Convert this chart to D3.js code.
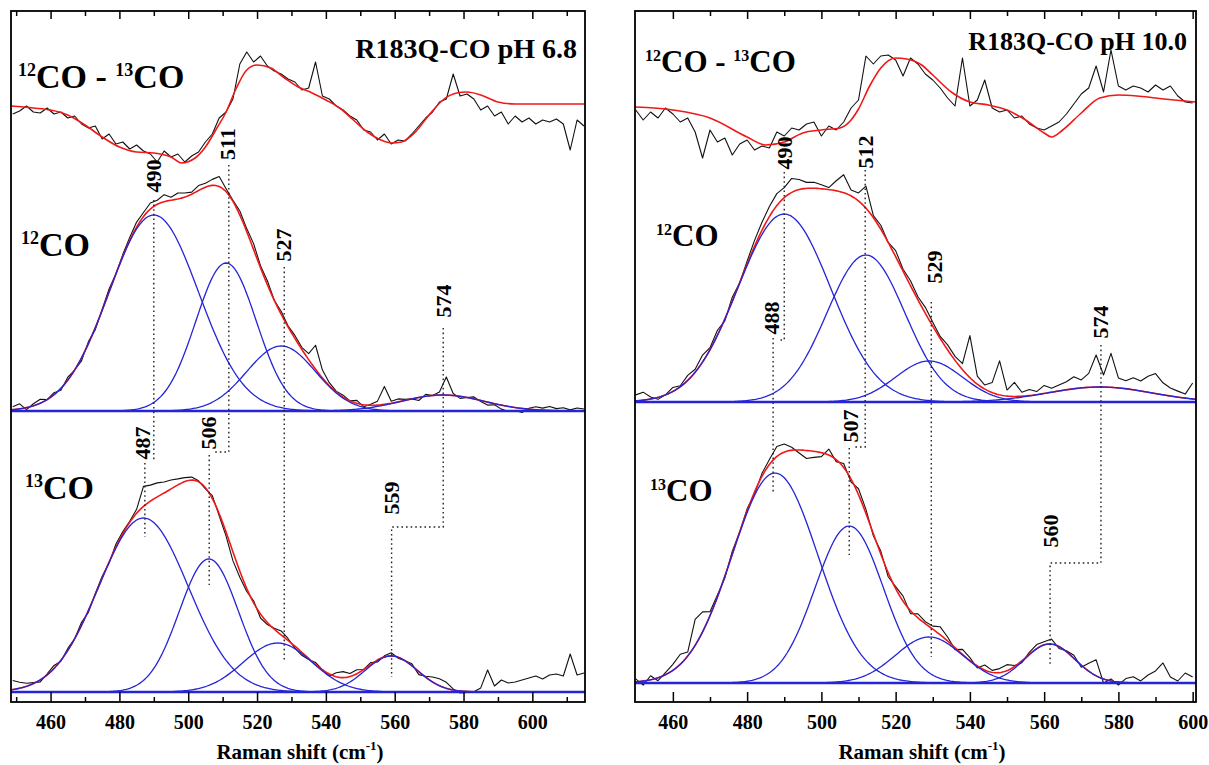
<!DOCTYPE html>
<html><head><meta charset="utf-8">
<script src="https://cdn.jsdelivr.net/npm/d3@7"></script>
<style>
body{margin:0;background:#fff}
svg{display:block}
text{font-family:"Liberation Serif","Times New Roman",serif;font-weight:bold;fill:#000}
</style>
</head><body>
<svg id="c" width="1209" height="765"></svg>
<script>
// ---------------- DATA ----------------
const tickValues = [460, 480, 500, 520, 540, 560, 580, 600];
const minorTickValues = [450, 470, 490, 510, 530, 550, 570, 590, 610];

// ===== Left panel : R183Q-CO pH 6.8 =====
const L_xRange = [448.5, 615.3];
const L_gridStart = 449;                 // measured spectra sampled every 2 cm-1
const L_offsets = [598, 291, 10];        // stacking offsets (a.u.): difference, 12CO, 13CO
const L_diffFitX = [448.5,455,460,465,470,475,480,485,490,495,498,502,505,508,511,514,517,520,524,528,532,536,540,544,548,552,556,559,562,566,570,574,578,581,585,590,595,600,615.3];
const L_diffFitY = [-2,-4,-6,-11,-21,-33,-43,-48,-49,-53,-59,-54,-43,-26,-8,16,34,39,36,26,17,11,4,-4,-16,-28,-36,-39,-38,-28,-11,4,11,12,9,2,0,0,0];
const L_diffObs = [-10,-7,-2,-8,-9,-4, -10,-8,-14,-12,-20,-24, -22,-35,-30,-40,-38,-45, -41,-47,-50,-58,-47,-53,
  -50,-58,-52,-48,-38,-30, -14,-8,5,40,52,42, 48,38,33,30,25,22, 14,16,42,8,5,-2, -6,-12,-16,-26,-28,-36,
  -30,-40,-36,-37,-30,-22, -14,-8,2,5,30,8, 10,5,-6,-2,-12,-8, -20,-12,-18,-14,-20,-16, -18,-15,-20,-46,-16,-22];
const L12_center = [490, 511, 527, 574];
const L12_height = [196, 148, 65, 16];
const L12_sigma  = [13, 8.8, 10, 12];
const L12_resid = [3,5,-2,2,4,0, 2,-2,3,0,-3,2, -2,1,3,0,2,3, 5,4,6,4,7,3, 6,4,2,5,4,6, 10,3,1,4,3,6,
  2,4,0,3,1,3, 2,6,24,8,3,1, 2,0,3,-2,1,4, 18,2,3,1,0,-3, 2,0,3,18,2,-2, 0,2,-1,-3,-1,-4, -5,-3,-4,1,3,2, 4,2,3,1,3,2];
const L13_center = [487, 506, 526, 559];
const L13_height = [174, 133, 49, 36];
const L13_sigma  = [13, 8.6, 10, 7.5];
const L13_resid = [9,6,3,1,-2,1, 3,-1,2,0,3,-2, 1,2,-1,3,2,1, 4,20,16,14,11,9, 6,4,3,1,-1,3, -2,-4,-9,-6,-3,2,
  -4,-2,1,4,2,-2, -3,-1,2,0,-2,4, 6,3,4,0,2,-2, 1,3,-1,0,2,-3, 1,5,7,6,1,-2, -1,0,4,22,6,12, 9,10,12,14,16,13, 17,18,16,38,17,19];
const L_peakLabels = ["490", "487", "511", "506", "527", "574", "559"];
const L_labelX = [490, 486.6, 511.5, 505.8, 527.8, 574.3, 559.2];
const L_labelY = [526, 259, 558, 269, 457, 401, 204];
const L_guides = [
  [[490,502],[490,242]],
  [[487.4,239],[487.4,165]],
  [[511.8,537],[511.8,250],[507.8,250]],
  [[506.1,247],[506.1,117]],
  [[527.9,435],[527.9,40]],
  [[574.1,374],[574.1,175],[559.1,175],[559.1,25]]
];

// ===== Right panel : R183Q-CO pH 10.0 =====
const R_xRange = [449.8, 600.9];
const R_gridStart = 450;
const R_offsets = [602, 300, 19];
const R_diffFitX = [449.8,460,470,480,485,490,495,500,505,508,510,513,516,520,523,527,530,535,540,545,550,555,560,562,565,570,575,580,585,590,595,600.9];
const R_diffFitY = [-7,-10,-18,-37,-45,-42,-33,-30,-28,-20,-9,14,32,42,41,35,25,8,-2,-5,-10,-20,-33,-37,-30,-13,2,5,4,2,0,-2];
const R_diffObs = [-10,-20,-12,-18,-8,-14, -22,-18,-32,-58,-30,-42, -38,-55,-44,-40,-50,-46, -48,-32,-36,-28,-30,-24,
  -22,-36,-26,-30,-22,-8, 0,44,36,44,45,40, 24,42,36,26,20,12, 2,-6,42,-6,0,20, -8,-12,-10,-18,-16,-24,
  -28,-30,-26,-22,-14,-4, 6,12,34,8,50,14, 10,14,12,8,15,10, 14,4,-2,-3];
const R12_center = [490, 512, 529, 575];
const R12_height = [188, 147, 41, 15];
const R12_sigma  = [12.5, 10.5, 9, 14];
const R12_resid = [6,8,2,-2,0,4, 1,5,3,7,2,5, -2,4,0,3,6,8, 10,12,10,14,10,6, 6,4,2,10,18,6, 8,22,2,4,0,6,
  2,5,3,6,4,2, 5,4,6,42,8,4, 10,34,6,14,4,6, 3,8,4,6,8,12, 8,14,32,12,34,10, 8,12,10,16,20,12, 8,6,4,16];
const R13_center = [487.5, 507.5, 529, 561.5];
const R13_height = [210, 157, 46, 39];
const R13_sigma  = [11.6, 9.2, 9, 6.8];
const R13_resid = [3,-4,4,-3,2,6, 10,4,26,20,4,2, -2,3,0,2,-2,3, 5,10,8,3,-3,-8, -6,-4,6,-2,4,-3, 6,4,-2,3,-4,2,
  5,-3,4,2,3,8, 4,-2,5,3,-2,5, 2,4,6,1,-2,2, 4,3,5,-2,1,3, -2,8,16,-4,2,-3, 4,6,2,8,12,20, 6,2,10,6];
const R_peakLabels = ["490", "512", "507", "488", "529", "574", "560"];
const R_labelX = [490, 512, 507.9, 486.6, 530.4, 575.2, 561.6];
const R_labelY = [549, 550, 276, 384, 435, 380, 171];
const R_guides = [
  [[490,530],[490,362],[489,362]],
  [[511.8,532],[511.8,255],[508.8,255]],
  [[507.5,254],[507.5,147]],
  [[487,364],[487,209]],
  [[529.6,400],[529.6,45]],
  [[575.3,357],[575.3,139],[561.6,139],[561.6,37]]
];

// ---------------- DRAWING ----------------
const svg = d3.select("#c");
const FT = 11, FB = 702;
const y = d3.scaleLinear().domain([0, 691]).range([FB, FT]);
const gauss = (xv, c, h, s) => h * Math.exp(-((xv - c) ** 2) / (2 * s * s));

const panels = [
  {id: "L", px: [11, 585], xr: L_xRange, gs: L_gridStart, off: L_offsets, dfx: L_diffFitX, dfy: L_diffFitY, dobs: L_diffObs,
   sp: [{c: L12_center, h: L12_height, s: L12_sigma, r: L12_resid}, {c: L13_center, h: L13_height, s: L13_sigma, r: L13_resid}],
   labels: L_peakLabels, lx: L_labelX, ly: L_labelY, guides: L_guides,
   title: "R183Q-CO pH 6.8", titleX: 577, titleY: 58, titleSize: 28,
   big: 34, small: 18, diffLab: [18, 88], lab12: [21, 256], lab13: [25, 499], axisTitleX: 300},
  {id: "R", px: [635, 1196], xr: R_xRange, gs: R_gridStart, off: R_offsets, dfx: R_diffFitX, dfy: R_diffFitY, dobs: R_diffObs,
   sp: [{c: R12_center, h: R12_height, s: R12_sigma, r: R12_resid}, {c: R13_center, h: R13_height, s: R13_sigma, r: R13_resid}],
   labels: R_peakLabels, lx: R_labelX, ly: R_labelY, guides: R_guides,
   title: "R183Q-CO pH 10.0", titleX: 1187, titleY: 50, titleSize: 26,
   big: 31, small: 16, diffLab: [645, 72], lab12: [656, 246], lab13: [650, 501], axisTitleX: 922}
];

const BLACK = "#111", RED = "#f01818", BLUE = "#2424d8";

function isoLabel(g, pos, parts, big, small) {
  const t = g.append("text").attr("x", pos[0]).attr("y", pos[1]);
  let raised = false;
  parts.forEach(p => {
    const ts = t.append("tspan").text(p.t);
    if (p.sup) { ts.attr("font-size", small).attr("dy", raised ? 0 : -big * 0.36); raised = true; }
    else { ts.attr("font-size", big).attr("dy", raised ? big * 0.36 : 0); raised = false; }
  });
}

panels.forEach(p => {
  const x = d3.scaleLinear().domain(p.xr).range(p.px);
  const g = svg.append("g");
  const clipId = "clip" + p.id;
  svg.append("clipPath").attr("id", clipId).append("rect")
    .attr("x", p.px[0]).attr("y", FT).attr("width", p.px[1] - p.px[0]).attr("height", FB - FT);
  const plot = g.append("g").attr("clip-path", `url(#${clipId})`);
  const line = d3.line().x(d => x(d[0])).y(d => y(d[1]));
  const smooth = d3.line().x(d => x(d[0])).y(d => y(d[1])).curve(d3.curveMonotoneX);
  const fine = d3.range(p.xr[0], p.xr[1] + 0.5, 0.5);

  // difference spectrum
  const dObs = p.dobs.map((v, i) => [p.gs + i * 2, p.off[0] + v]);
  plot.append("path").attr("d", line(dObs)).attr("fill", "none").attr("stroke", BLACK).attr("stroke-width", 1.1).attr("stroke-linejoin", "round");
  const dFit = p.dfx.map((v, i) => [v, p.off[0] + p.dfy[i]]);
  plot.append("path").attr("d", smooth(dFit)).attr("fill", "none").attr("stroke", RED).attr("stroke-width", 1.6);

  // 12CO and 13CO spectra with Gaussian components
  p.sp.forEach((s, k) => {
    const base = p.off[k + 1];
    const env = xv => s.c.reduce((a, c, j) => a + gauss(xv, c, s.h[j], s.s[j]), 0);
    const obs = s.r.map((r, i) => { const xv = p.gs + i * 2; return [xv, base + env(xv) + r]; });
    plot.append("path").attr("d", line(obs)).attr("fill", "none").attr("stroke", BLACK).attr("stroke-width", 1.1).attr("stroke-linejoin", "round");
    plot.append("path").attr("d", line(fine.map(xv => [xv, base + env(xv)]))).attr("fill", "none").attr("stroke", RED).attr("stroke-width", 1.6);
    s.c.forEach((c, j) => {
      plot.append("path").attr("d", line(fine.map(xv => [xv, base + gauss(xv, c, s.h[j], s.s[j])])))
        .attr("fill", "none").attr("stroke", BLUE).attr("stroke-width", 1.3);
    });
    plot.append("path").attr("d", line([[p.xr[0], base], [p.xr[1], base]])).attr("stroke", BLUE).attr("stroke-width", 2.4);
  });

  // dotted guides
  p.guides.forEach(gd => {
    g.append("path").attr("d", line(gd)).attr("fill", "none").attr("stroke", "#222")
      .attr("stroke-width", 1.4).attr("stroke-dasharray", "1.6,3");
  });
  // peak labels
  p.labels.forEach((t, i) => {
    g.append("text").attr("transform", `translate(${x(p.lx[i])},${y(p.ly[i])}) rotate(-90)`)
      .attr("text-anchor", "middle").attr("dominant-baseline", "central").attr("font-size", 22).text(t);
  });

  // trace labels
  isoLabel(g, p.diffLab, [{t: "12", sup: true}, {t: "CO - "}, {t: "13", sup: true}, {t: "CO"}], p.big, p.small);
  isoLabel(g, p.lab12, [{t: "12", sup: true}, {t: "CO"}], p.big, p.small);
  isoLabel(g, p.lab13, [{t: "13", sup: true}, {t: "CO"}], p.big, p.small);
  g.append("text").attr("x", p.titleX).attr("y", p.titleY).attr("text-anchor", "end").attr("font-size", p.titleSize).text(p.title);

  // axes
  const minor = minorTickValues.filter(v => v > p.xr[0] + 1 && v < p.xr[1] - 1);
  const major = tickValues.filter(v => v > p.xr[0] && v < p.xr[1]);
  const styleAxis = sel => { sel.select(".domain").remove(); sel.selectAll("line").attr("stroke", "#000").attr("stroke-width", 1.5); };
  g.append("g").attr("transform", `translate(0,${FB})`)
    .call(d3.axisBottom(x).tickValues(major).tickSize(-10).tickPadding(13).tickFormat(d3.format("d")))
    .call(styleAxis)
    .call(a => a.selectAll("text").attr("font-size", 20).attr("font-family", '"Liberation Serif","Times New Roman",serif').attr("font-weight", "bold").attr("fill", "#000"));
  g.append("g").attr("transform", `translate(0,${FB})`)
    .call(d3.axisBottom(x).tickValues(minor).tickSize(-5).tickFormat("")).call(styleAxis);
  g.append("g").attr("transform", `translate(0,${FT})`)
    .call(d3.axisTop(x).tickValues(major).tickSize(-8).tickFormat("")).call(styleAxis);
  g.append("g").attr("transform", `translate(0,${FT})`)
    .call(d3.axisTop(x).tickValues(minor).tickSize(-5).tickFormat("")).call(styleAxis);

  g.append("rect").attr("x", p.px[0]).attr("y", FT).attr("width", p.px[1] - p.px[0]).attr("height", FB - FT)
    .attr("fill", "none").attr("stroke", "#000").attr("stroke-width", 1.8);

  const at = g.append("text").attr("x", p.axisTitleX).attr("y", 759).attr("text-anchor", "middle").attr("font-size", 21);
  at.append("tspan").text("Raman shift (cm");
  at.append("tspan").text("-1").attr("font-size", 13).attr("dy", -9);
  at.append("tspan").text(")").attr("dy", 9);
});
</script>
</body></html>
